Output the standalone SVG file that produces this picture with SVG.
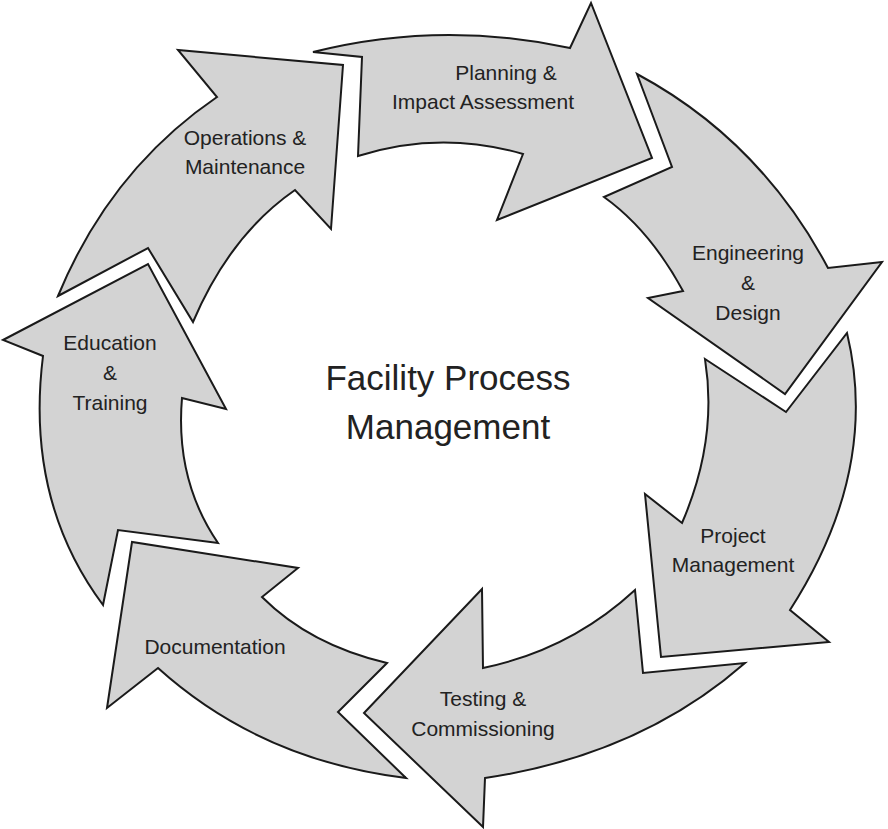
<svg xmlns="http://www.w3.org/2000/svg" width="888" height="829" viewBox="0 0 888 829">
<style>
.a{fill:#d3d3d3;stroke:#1a1a1a;stroke-width:2;stroke-linejoin:miter}
text{font-family:"Liberation Sans",Arial,sans-serif;fill:#222;text-anchor:middle}
.l{font-size:21px}
.c{font-size:35px}
</style>
<rect width="888" height="829" fill="#fff"/>
<g id="operations">
<path class="a" d="M58,296 L148,248 L193,322 Q230,235 295,190 L331,229 L343,65 L178,50 L217,97 Q110,170 58,296 Z"/>
<text class="l" x="245" y="145">Operations &amp;</text>
<text class="l" x="245" y="174">Maintenance</text>
</g>
<g id="planning">
<path class="a" d="M313,52 L362,57 L358,156 Q440,130 523,154 L497,220 L652,158 L591,3 L570,48 Q440,20 313,52 Z"/>
<text class="l" x="506" y="80">Planning &amp;</text>
<text class="l" x="483" y="109">Impact Assessment</text>
</g>
<g id="engineering">
<path class="a" d="M637,74 L672,167 L604,197 Q650,230 683,291 L648,298 L785,394 L882,262 L828,268 Q760,140 637,74 Z"/>
<text class="l" x="748" y="260">Engineering</text>
<text class="l" x="748" y="290">&amp;</text>
<text class="l" x="748" y="320">Design</text>
</g>
<g id="project">
<path class="a" d="M705,359 L786,412 L847,333 Q880,470 790,610 L829,642 L661,657 L645,494 L682,523 Q718,440 705,359 Z"/>
<text class="l" x="733" y="543">Project</text>
<text class="l" x="733" y="572">Management</text>
</g>
<g id="testing">
<path class="a" d="M635,590 L643,673 L745,663 Q640,755 485,778 L483,827 L364,713 L482,589 L483,668 Q570,650 635,590 Z"/>
<text class="l" x="483" y="706">Testing &amp;</text>
<text class="l" x="483" y="736">Commissioning</text>
</g>
<g id="documentation">
<path class="a" d="M406,778 L338,712 L387,663 Q310,645 262,597 L298,568 L132,542 L107,708 L158,668 Q260,760 406,778 Z"/>
<text class="l" x="215" y="654">Documentation</text>
</g>
<g id="education">
<path class="a" d="M103,605 L118,530 L218,543 Q175,480 182,398 L226,409 L148,264 L3,340 L43,356 Q25,500 103,605 Z"/>
<text class="l" x="110" y="350">Education</text>
<text class="l" x="110" y="380">&amp;</text>
<text class="l" x="110" y="410">Training</text>
</g>
<g id="center">
<text class="c" x="448" y="390">Facility Process</text>
<text class="c" x="448" y="439">Management</text>
</g>
<g id="connectors"></g>
</svg>
